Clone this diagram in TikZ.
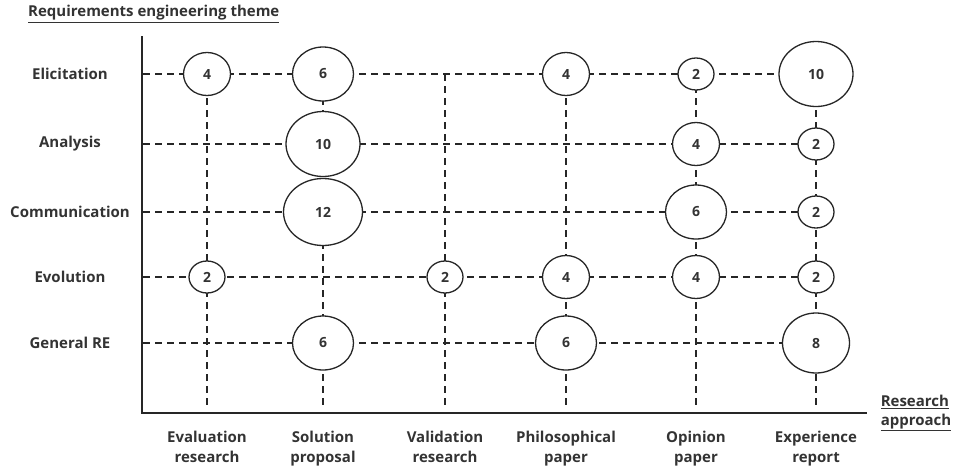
\documentclass[tikz,border=0pt]{standalone}
\usepackage{fontspec}
\setmainfont{Open Sans}
\usetikzlibrary{shapes.geometric,backgrounds}
\begin{document}
\begin{tikzpicture}[x=1pt,y=-1pt,
  bub/.style={ellipse,draw=black!85,line width=1.3pt,fill=white,inner sep=0pt,font=\bfseries\fontsize{14}{16}\selectfont,text=black!80},
  bA/.style={bub,minimum width=36pt,minimum height=32pt},
  bB/.style={bub,minimum width=47pt,minimum height=43pt},
  bC/.style={bub,minimum width=61pt,minimum height=54pt},
  bD/.style={bub,minimum width=67pt,minimum height=60pt},
  bE/.style={bub,minimum width=74pt,minimum height=65pt},
  bF/.style={bub,minimum width=79pt,minimum height=67pt},
  grid/.style={draw=black!85,line width=1.3pt,dash pattern=on 7pt off 5pt},
  axis/.style={draw=black!85,line width=1.5pt},
  lab/.style={font=\bfseries\fontsize{15}{20}\selectfont,text=black!80,inner sep=0pt,align=center},
  clab/.style={lab,anchor=north}]
\useasboundingbox (0,0) rectangle (956,472);
% axes
\coordinate (ytop) at (142,36);
\coordinate (orig) at (142,413);
\coordinate (xend) at (867,413);
\draw[axis] (ytop) -- (orig) -- (xend);
% titles
\node[lab,anchor=west] (title) at (28,14) {\underline{Requirements engineering theme}};
\node[lab,align=left] (xtitle) at (916,413) {\underline{Research}\\[-1pt]\underline{approach}};
% row labels
\node[lab] (lEl) at (70,74) {Elicitation};
\node[lab] (lAn) at (70,144) {Analysis};
\node[lab] (lCo) at (70,212) {Communication};
\node[lab] (lEv) at (70,277) {Evolution};
\node[lab] (lGe) at (70,343) {General RE};
% column labels
\node[clab] (cEv) at (207,431) {Evaluation\\research};
\node[clab] (cSo) at (323,431) {Solution\\proposal};
\node[clab] (cVa) at (445,431) {Validation\\research};
\node[clab] (cPh) at (566,431) {Philosophical\\paper};
\node[clab] (cOp) at (696,431) {Opinion\\paper};
\node[clab] (cEx) at (816,431) {Experience\\report};
% row start coordinates
\coordinate (rEl) at (143,74);
\coordinate (rAn) at (143,144);
\coordinate (rCo) at (143,212);
\coordinate (rEv) at (143,277);
\coordinate (rGe) at (143,343);
% column end coordinates
\coordinate (eEv) at (207,407);
\coordinate (eSo) at (323,407);
\coordinate (eVa) at (445,407);
\coordinate (ePh) at (566,407);
\coordinate (eOp) at (696,407);
\coordinate (eEx) at (816,407);
\coordinate (tVa) at (445,74);
% bubbles
\node[bB] (elev) at (207,74) {4};
\node[bC] (elso) at (323,74) {6};
\node[bB] (elph) at (566,74) {4};
\node[bA] (elop) at (696,74) {2};
\node[bE] (elex) at (816,74) {10};
\node[bE] (anso) at (323,144) {10};
\node[bB] (anop) at (696,144) {4};
\node[bA] (anex) at (816,144) {2};
\node[bF] (coso) at (323,212) {12};
\node[bC] (coop) at (696,212) {6};
\node[bA] (coex) at (816,212) {2};
\node[bA] (evev) at (207,277) {2};
\node[bA] (evva) at (445,277) {2};
\node[bB] (evph) at (566,277) {4};
\node[bB] (evop) at (696,277) {4};
\node[bA] (evex) at (816,277) {2};
\node[bC] (geso) at (323,343) {6};
\node[bC] (geph) at (566,343) {6};
\node[bD] (geex) at (816,343) {8};
\begin{scope}[on background layer]
\draw[grid] (rEl) -- (elex.center);
\draw[grid] (rAn) -- (anex.center);
\draw[grid] (rCo) -- (coex.center);
\draw[grid] (rEv) -- (evex.center);
\draw[grid] (rGe) -- (geex.center);
\draw[grid] (elev.center) -- (eEv);
\draw[grid] (elso.center) -- (eSo);
\draw[grid] (tVa) -- (eVa);
\draw[grid] (elph.center) -- (ePh);
\draw[grid] (elop.center) -- (eOp);
\draw[grid] (elex.center) -- (eEx);
\end{scope}
\end{tikzpicture}
\end{document}
